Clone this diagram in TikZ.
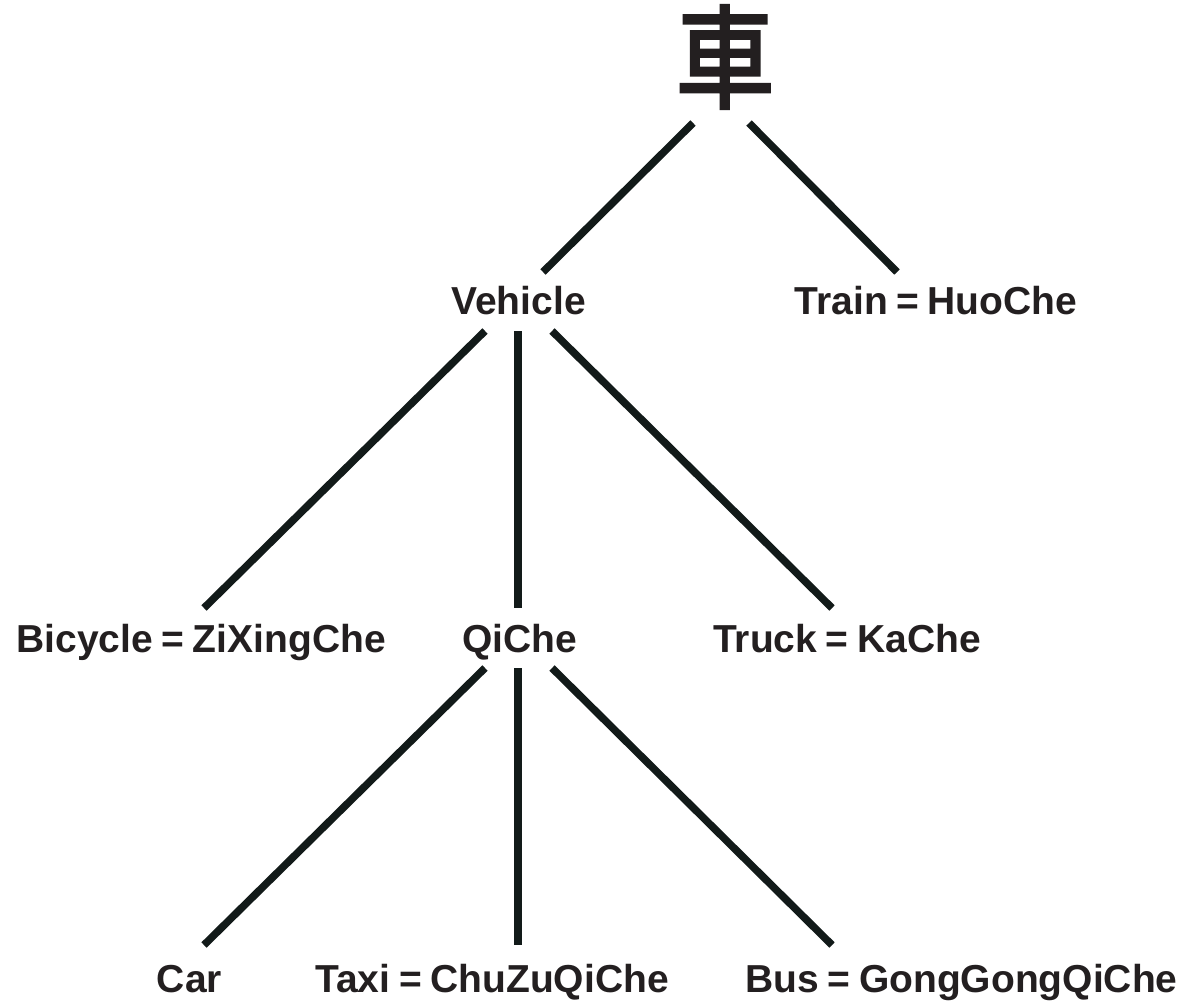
\documentclass[tikz,border=0pt]{standalone}
\usepackage{fontspec}
\setmainfont{Liberation Sans}
\newfontfamily\cjk[FakeStretch=0.88,FakeBold=2.5]{Noto Sans CJK TC}
\usetikzlibrary{calc}
\definecolor{txt}{HTML}{231F20}
\definecolor{ln}{HTML}{121A19}
\newcommand\eqs{\hspace{0.22em}=\hspace{0.22em}}
\begin{document}
\begin{tikzpicture}[x=1pt,y=-1pt,
  lbl/.style={anchor=base, inner sep=0pt, text=txt, font=\fontsize{39}{39}\selectfont\bfseries},
  edge/.style={draw=ln, line width=7.5pt}]
\useasboundingbox[fill=white] (0,0) rectangle (1186,1001);
\node[anchor=center, inner sep=0pt, text=txt, font=\cjk\fontsize{112}{112}\selectfont] (root) at (725,57) {車};
\node[lbl] (veh) at (518.5,314) {Vehicle};
\node[lbl] (train) at (936,314) {Train\eqs HuoChe};
\node[lbl] (bic) at (201,652) {Bicycle\eqs ZiXingChe};
\node[lbl] (qi) at (519.5,652) {QiChe};
\node[lbl] (truck) at (847,652) {Truck\eqs KaChe};
\node[lbl] (car) at (189.5,992) {Car};
\node[lbl] (taxi) at (492,992) {Taxi\eqs ChuZuQiChe};
\node[lbl] (bus) at (961.5,992) {Bus\eqs GongGongQiChe};
% connectors
\draw[edge] ($(root.center)+(-32,66)$) -- ($(veh.base)+(24.5,-42)$);
\draw[edge] ($(root.center)+(24,66)$) -- ($(train.base)+(-39,-42)$);
\draw[edge] ($(veh.base)+(-33.5,17)$) -- ($(bic.base)+(3,-44)$);
\draw[edge] ($(veh.base)+(-0.5,17)$) -- ($(qi.base)+(-1.5,-44)$);
\draw[edge] ($(veh.base)+(33.5,17)$) -- ($(truck.base)+(-15,-44)$);
\draw[edge] ($(qi.base)+(-34.5,16)$) -- ($(car.base)+(14.5,-47)$);
\draw[edge] ($(qi.base)+(-1.5,16)$) -- ($(taxi.base)+(26,-47)$);
\draw[edge] ($(qi.base)+(32.5,16)$) -- ($(bus.base)+(-129.5,-47)$);
\end{tikzpicture}
\end{document}
